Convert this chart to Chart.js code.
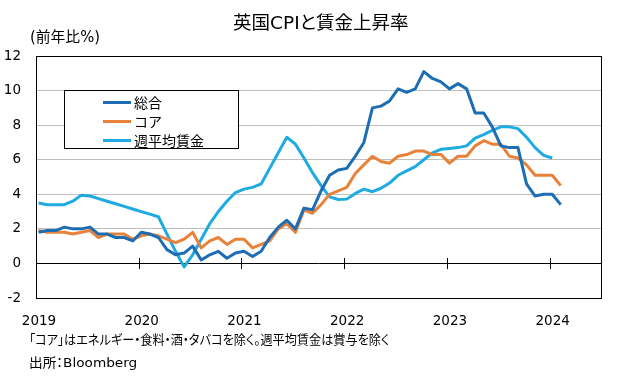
<!DOCTYPE html>
<html>
<head>
<meta charset="utf-8">
<script src="https://cdn.jsdelivr.net/npm/chart.js@4"></script>
<style>
  body { margin: 0; background: #fff; }
  #wrap { position: relative; width: 617px; height: 377px; font-family: "DejaVu Sans", "Noto Sans CJK JP", sans-serif; color: #000; }
  canvas { position: absolute; left: 0; top: 0; }
  .txt { position: absolute; white-space: nowrap; line-height: 1; transform-origin: left center; font-feature-settings: "palt"; }
  #legend { position: absolute; left: 64px; top: 90px; width: 175px; height: 59px; border: 1px solid #000; background: #fff; box-sizing: border-box; font-family: "Noto Sans CJK JP", sans-serif; font-size: 14px; }
  #legend .row { position: absolute; left: 38px; height: 18px; }
  #legend .sw { position: absolute; left: 0; top: 8px; width: 28px; height: 3px; }
  #legend .lb { position: absolute; left: 31px; top: 0; line-height: 18px; white-space: nowrap; }
</style>
</head>
<body>
<div id="wrap">
  <canvas id="chart" width="617" height="377"></canvas>
  <div class="txt" id="title" style="left:233px;top:14px;font-size:18px;">英国CPIと賃金上昇率</div>
  <div class="txt" id="unit" style="left:30px;top:30px;font-size:15px;">(前年比%)</div>
  <div class="txt" id="note" style="left:29px;top:333px;font-size:13px;">「コア」はエネルギー・食料・酒・タバコを除く。週平均賃金は賞与を除く</div>
  <div class="txt" id="src" style="left:29px;top:356px;font-size:13px;">出所：Bloomberg</div>
  <div id="legend"></div>
</div>
<script>
// monthly, Jan 2019 onwards
const yearLabels = ['2019', '2020', '2021', '2022', '2023', '2024'];
const seriesNames = ['総合', 'コア', '週平均賃金'];

const headline = [1.8, 1.9, 1.9, 2.1, 2.0, 2.0, 2.1, 1.7, 1.7, 1.5, 1.5, 1.3,
  1.8, 1.7, 1.5, 0.8, 0.5, 0.6, 1.0, 0.2, 0.5, 0.7, 0.3, 0.6,
  0.7, 0.4, 0.7, 1.5, 2.1, 2.5, 2.0, 3.2, 3.1, 4.2, 5.1, 5.4,
  5.5, 6.2, 7.0, 9.0, 9.1, 9.4, 10.1, 9.9, 10.1, 11.1, 10.7, 10.5,
  10.1, 10.4, 10.1, 8.7, 8.7, 7.9, 6.8, 6.7, 6.7, 4.6, 3.9, 4.0,
  4.0, 3.4];

const core = [1.9, 1.8, 1.8, 1.8, 1.7, 1.8, 1.9, 1.5, 1.7, 1.7, 1.7, 1.4,
  1.6, 1.7, 1.6, 1.4, 1.2, 1.4, 1.8, 0.9, 1.3, 1.5, 1.1, 1.4,
  1.4, 0.9, 1.1, 1.3, 2.0, 2.3, 1.8, 3.1, 2.9, 3.4, 4.0, 4.2,
  4.4, 5.2, 5.7, 6.2, 5.9, 5.8, 6.2, 6.3, 6.5, 6.5, 6.3, 6.3,
  5.8, 6.2, 6.2, 6.8, 7.1, 6.9, 6.9, 6.2, 6.1, 5.7, 5.1, 5.1,
  5.1, 4.5];

const wages = [3.5, 3.4, 3.4, 3.4, 3.6, 3.95, 3.9, 3.75, 3.6, 3.45, 3.3, 3.15,
  3.0, 2.85, 2.7, 1.7, 0.7, -0.2, 0.5, 1.4, 2.3, 3.0, 3.6, 4.1,
  4.3, 4.4, 4.6, 5.5, 6.4, 7.3, 6.9, 6.1, 5.25, 4.5, 3.85, 3.7,
  3.72, 4.05, 4.3, 4.15, 4.35, 4.65, 5.1, 5.35, 5.6, 6.0, 6.4, 6.6,
  6.65, 6.7, 6.8, 7.25, 7.45, 7.7, 7.9, 7.9, 7.8, 7.3, 6.7, 6.25,
  6.1];

const colors = ['#1c6db3', '#e8823a', '#1eaae2'];
const POINT_SHIFT = 0.3; // points sit a little right of the month start
const X_MAX = 66;

function toXY(arr) {
  return arr.map((v, i) => ({ x: i + POINT_SHIFT, y: v }));
}

// frame round the plot + year tick marks across the zero line
const frame = {
  id: 'frame',
  afterDraw(chart) {
    const ctx = chart.ctx;
    const xs = chart.scales.x;
    const ys = chart.scales.y;
    const y0 = Math.round(ys.getPixelForValue(0));
    const l = Math.round(xs.getPixelForValue(0));
    const r = Math.round(xs.getPixelForValue(X_MAX));
    const t = Math.round(ys.getPixelForValue(12));
    const b = Math.round(ys.getPixelForValue(-2));
    ctx.save();
    ctx.fillStyle = '#000';
    yearLabels.forEach((lab, k) => {
      const x = Math.round(xs.getPixelForValue(k * 12));
      ctx.fillRect(x, y0 - 5, 1, 11);
    });
    ctx.fillRect(l, t, r - l + 1, 1);
    ctx.fillRect(l, b, r - l + 1, 1);
    ctx.fillRect(l, t, 1, b - t + 1);
    ctx.fillRect(r, t, 1, b - t + 1);
    ctx.restore();
  }
};

Chart.defaults.font.family = '"DejaVu Sans", "Noto Sans CJK JP", sans-serif';
Chart.defaults.color = '#000';

const chart = new Chart(document.getElementById('chart'), {
  type: 'line',
  data: {
    datasets: [headline, core, wages].map((d, k) => ({
      label: seriesNames[k],
      data: toXY(d),
      borderColor: colors[k],
      borderWidth: 3,
      pointRadius: 0,
      tension: 0,
      fill: false,
      borderJoinStyle: 'round'
    }))
  },
  options: {
    responsive: false,
    animation: false,
    layout: { padding: { left: 0, top: 56, right: 16, bottom: 0 } },
    plugins: { legend: { display: false }, title: { display: false }, tooltip: { enabled: false } },
    scales: {
      x: {
        type: 'linear',
        min: 0,
        max: X_MAX,
        grid: { display: false, drawTicks: false },
        border: { display: false },
        afterFit(s) { s.height = 79; },
        ticks: {
          stepSize: 12,
          includeBounds: false,
          padding: 15,
          labelOffset: 3,
          maxRotation: 0,
          font: { size: 13.5 },
          callback: v => yearLabels[v / 12] || ''
        }
      },
      y: {
        min: -2,
        max: 12,
        grid: {
          drawTicks: false,
          color: c => (c.tick && c.tick.value === 0 ? '#000' : '#bfbfbf'),
          lineWidth: 1
        },
        border: { display: false },
        afterFit(s) { s.width = 36; },
        ticks: { stepSize: 2, padding: 15, font: { size: 13.5 } }
      }
    }
  },
  plugins: [frame]
});

// legend built from the datasets
const lg = document.getElementById('legend');
chart.data.datasets.forEach((ds, k) => {
  const row = document.createElement('div');
  row.className = 'row';
  row.style.top = (2 + k * 19) + 'px';
  row.innerHTML = '<div class="sw" style="background:' + ds.borderColor + '"></div><div class="lb">' + ds.label + '</div>';
  lg.appendChild(row);
});

// squeeze texts to the widths seen in the reference
function fit(id, w) {
  const el = document.getElementById(id);
  el.style.transform = 'scaleX(' + (w / el.offsetWidth) + ')';
}
fit('title', 176);
fit('unit', 70);
fit('note', 360);
fit('src', 108);
</script>
</body>
</html>
